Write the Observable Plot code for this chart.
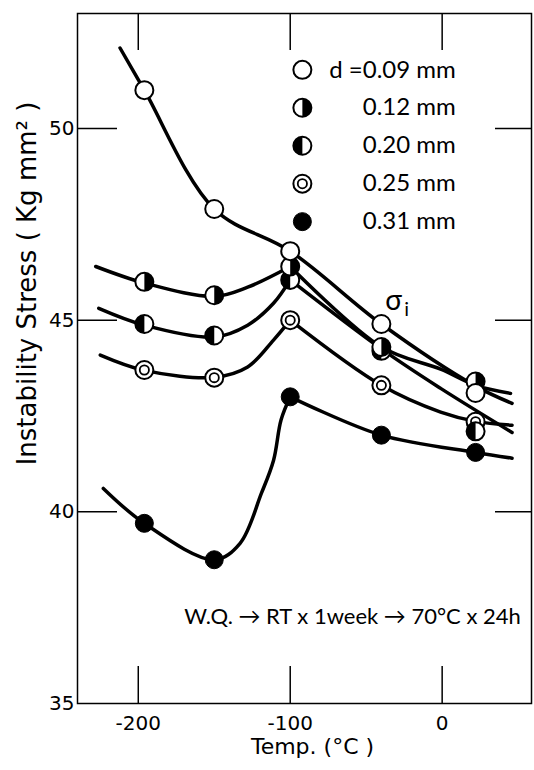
<!DOCTYPE html>
<html>
<head>
<meta charset="utf-8">
<script src="https://cdn.jsdelivr.net/npm/d3@7"></script>
<script src="https://cdn.jsdelivr.net/npm/@observablehq/plot@0.6"></script>
<style>
  html, body { margin: 0; padding: 0; background: white; }
  #chart svg { display: block; }
</style>
</head>
<body>
<div id="chart"></div>
<script>
// ---- data ----
const temps = [-196, -150, -100, -40, 22];           // test temperatures (°C)
const sizes = ["0.09", "0.12", "0.20", "0.25", "0.31"]; // grain size d (mm)
const stress009 = [51.0, 47.9, 46.8, 44.9, 43.1];
const stress012 = [46.0, 45.65, 46.4, 44.3, 43.4];
const stress020 = [44.9, 44.6, 46.05, 44.2, 42.1];
const stress025 = [43.7, 43.5, 45.0, 43.3, 42.35];
const stress031 = [39.7, 38.75, 43.0, 42.0, 41.55];

// hand-drawn fitted curves: [temp, stress]
const curve009 = [[-212, 52.1], [-196, 51.0], [-150, 47.9], [-100, 46.8], [-40, 44.9], [22, 43.28], [46, 42.83]];
const curve012L = [[-228, 46.4], [-196, 45.97], [-150, 45.62], [-128, 45.86], [-100, 46.4]];
const curve012R = [[-100, 46.4], [-40, 44.3], [-1, 43.72], [22, 43.3], [45, 43.09]];
const curve020L = [[-226, 45.31], [-196, 44.87], [-150, 44.56], [-128, 44.87], [-111, 45.44], [-100, 46.05]];
const curve020R = [[-100, 46.05], [-40, 44.25], [-1, 43.22], [46, 42.07]];
const curve025L = [[-225, 44.09], [-196, 43.69], [-150, 43.51], [-128, 43.78], [-111, 44.48], [-100, 45.0]];
const curve025R = [[-100, 45.0], [-40, 43.3], [-1, 42.6], [22, 42.36], [46, 42.26]];
const curve031L = [[-223, 40.61], [-196, 39.7], [-150, 38.75], [-133, 39.18], [-119, 40.48], [-111, 41.34], [-106, 42.4], [-100, 43.0]];
const curve031R = [[-100, 43.0], [-40, 42.0], [22, 41.55], [46, 41.4]];

const xTicks = [-200, -100, 0];
const yTicks = [35, 40, 45, 50];
const legendLabels = ["d =0.09 mm", "0.12 mm", "0.20 mm", "0.25 mm", "0.31 mm"];
const xLabel = "Temp. (°C )";
const yLabel = "Instability Stress ( Kg mm² )";
const treatment = "W.Q. → RT x 1week → 70°C x 24h";

// ---- build ----
const kinds = ["open", "right", "left", "ring", "filled"];
const series = [stress009, stress012, stress020, stress025, stress031];
const curves = [
  ["a", curve009], ["b", curve012L], ["c", curve012R], ["d", curve020L], ["e", curve020R],
  ["f", curve025L], ["g", curve025R], ["h", curve031L], ["i", curve031R]
].flatMap(([id, arr]) => arr.map(([t, v]) => ({t, v, id})));

const R = 9;
const halfRight = {draw(ctx, size) { const r = Math.sqrt(size / Math.PI); ctx.moveTo(0, -r); ctx.arc(0, 0, r, -Math.PI / 2, Math.PI / 2); ctx.closePath(); }};
const halfLeft = {draw(ctx, size) { const r = Math.sqrt(size / Math.PI); ctx.moveTo(0, r); ctx.arc(0, 0, r, Math.PI / 2, 3 * Math.PI / 2); ctx.closePath(); }};

function markerMarks(data, kind) {
  const base = {x: "t", y: "v", r: R};
  if (kind === "filled") return [Plot.dot(data, {...base, fill: "black", stroke: "black", strokeWidth: 1})];
  const m = [Plot.dot(data, {...base, fill: "white", stroke: "black", strokeWidth: 2})];
  if (kind === "right") m.push(Plot.dot(data, {...base, symbol: halfRight, fill: "black"}));
  if (kind === "left") m.push(Plot.dot(data, {...base, symbol: halfLeft, fill: "black"}));
  if (kind === "ring") m.push(Plot.dot(data, {x: "t", y: "v", r: 4.6, fill: "none", stroke: "black", strokeWidth: 1.8}));
  return m;
}

// draw order: 0.31 at the bottom, 0.09 on top
const pointMarks = [];
for (let k = series.length - 1; k >= 0; k--) {
  const data = temps.map((t, i) => ({t, v: series[k][i]}));
  pointMarks.push(...markerMarks(data, kinds[k]));
}

// legend placement (in chart units)
const legendX = -92, legendTextX = 9, legendTop = 51.53, legendStep = 0.99;
const legendMarks = [];
sizes.forEach((s, i) => legendMarks.push(...markerMarks([{t: legendX, v: legendTop - i * legendStep}], kinds[i])));
const legendText = legendLabels.map((label, i) => ({label, t: legendTextX, v: legendTop - i * legendStep}));

const wide = "'DejaVu Sans', sans-serif";

const chart = Plot.plot({
  width: 534,
  height: 770,
  marginLeft: 77,
  marginRight: 3,
  marginTop: 13,
  marginBottom: 67,
  style: {fontFamily: "Lato, 'DejaVu Sans', sans-serif", background: "white", color: "black"},
  x: {domain: [-240, 58.8]},
  y: {domain: [35, 53.0]},
  marks: [
    Plot.frame({stroke: "black", strokeWidth: 1.5}),
    Plot.ruleX(xTicks, {x: d => d, insetTop: 653, stroke: "black", strokeWidth: 1.5}),
    Plot.ruleX(xTicks, {x: d => d, insetBottom: 653, stroke: "black", strokeWidth: 1.5}),
    Plot.ruleY(yTicks.slice(1), {y: d => d, insetRight: 414, stroke: "black", strokeWidth: 1.5}),
    Plot.ruleY(yTicks.slice(1), {y: d => d, insetLeft: 418, stroke: "black", strokeWidth: 1.5}),
    Plot.axisX({ticks: xTicks, tickSize: 0, tickPadding: 12, fontSize: 20, fontFamily: wide, tickFormat: d => String(d), label: null}),
    Plot.axisY({ticks: yTicks, tickSize: 0, tickPadding: 3, fontSize: 20, fontFamily: wide, tickFormat: d => String(d), label: null}),
    Plot.text([xLabel], {frameAnchor: "bottom", textAnchor: "middle", dx: 8, dy: 50, fontSize: 22, fontFamily: wide, text: d => d}),
    Plot.text([yLabel], {frameAnchor: "left", textAnchor: "middle", rotate: -90, dx: -50, dy: -75, fontSize: 26, fontFamily: wide, text: d => d}),
    Plot.line(curves, {x: "t", y: "v", z: "id", curve: "catmull-rom", stroke: "black", strokeWidth: 3.5}),
    ...pointMarks,
    ...legendMarks,
    Plot.text(legendText, {x: "t", y: "v", text: "label", textAnchor: "end", fontSize: 24}),
    Plot.text([{s: "σ", t: -32, v: 45.5}], {x: "t", y: "v", text: "s", fontSize: 28}),
    Plot.text([{s: "i", t: -32, v: 45.5}], {x: "t", y: "v", text: "s", fontSize: 20, dx: 13, dy: 9}),
    Plot.text([{s: treatment, t: -59, v: 37.25}], {x: "t", y: "v", text: "s", fontSize: 22})
  ]
});
document.getElementById("chart").appendChild(chart);
</script>
</body>
</html>
